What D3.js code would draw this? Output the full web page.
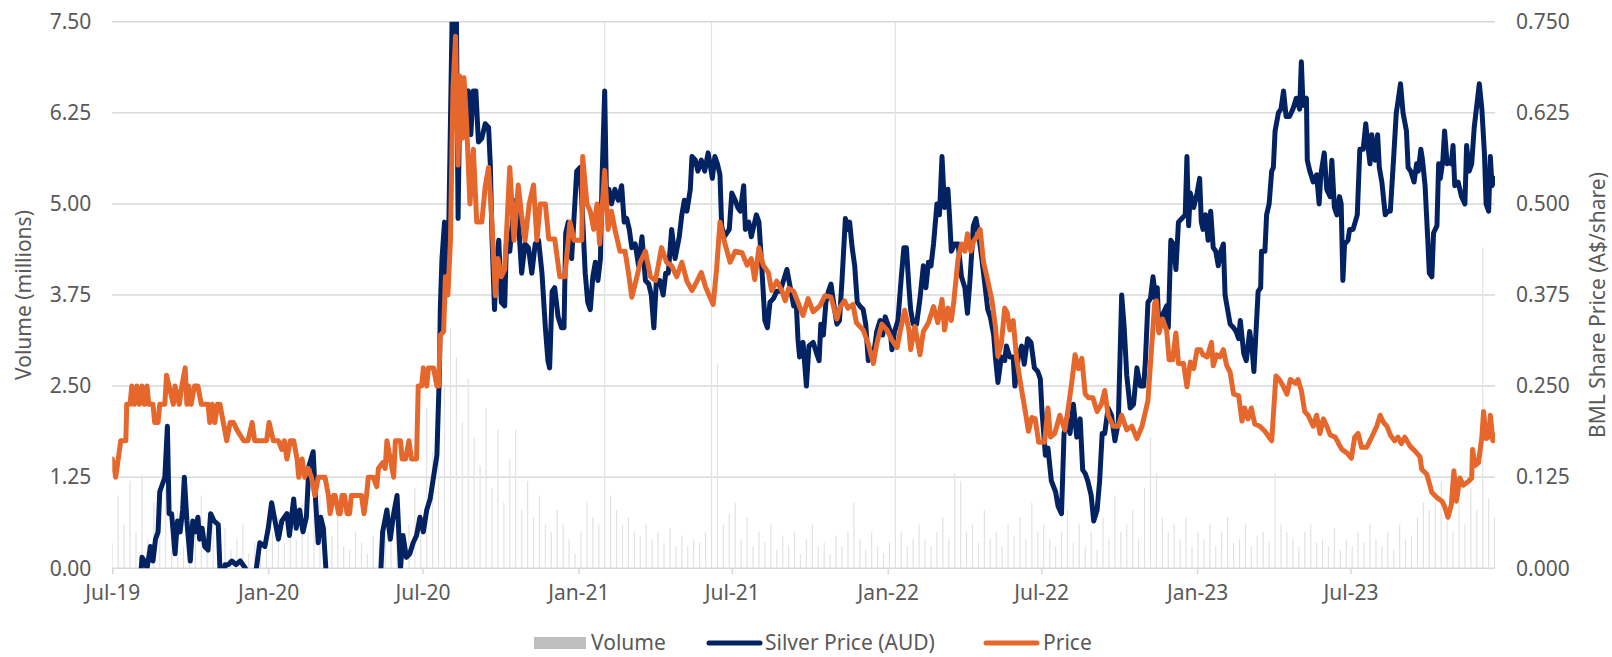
<!DOCTYPE html>
<html><head><meta charset="utf-8">
<script src="https://cdn.jsdelivr.net/npm/d3@7"></script>
<style>
html,body{margin:0;padding:0;background:#fff;}
svg{display:block;font-family:"Noto Sans","Open Sans",sans-serif;}
</style></head>
<body><svg id="chart" width="1612" height="657"></svg>
<script>
// ---------- DATA ----------
const leftTicks = [0, 1.25, 2.5, 3.75, 5, 6.25, 7.5];
const rightTicks = [0, 0.125, 0.25, 0.375, 0.5, 0.625, 0.75];
const xTickLabels = ["Jul-19","Jan-20","Jul-20","Jan-21","Jul-21","Jan-22","Jul-22","Jan-23","Jul-23"];
const seriesNames = ["Volume", "Silver Price (AUD)", "Price"];

// weekly traded volume (millions), weeks starting 2019-07-01
const volumeStart = "2019-07-01";
const volumeWeekly = [
0.35,1.0,0.6,1.2,0.5, 1.28,0.4,0.9,0.6, 1.1,0.5,0.8,0.3, 0.7,0.45,1.0,0.35,0.6, 0.3,0.55,0.25,0.4, 0.6,0.2,0.35,0.15,0.3,
0.5,0.7,0.35,0.6, 0.4,0.9,0.5,0.75, 1.0,0.6,0.45,0.8,0.3, 0.25,0.5,0.35,0.2, 0.45,0.3,0.7,0.55, 0.9,0.4,0.6,1.1,0.8,
2.2,1.6,3.7,2.5, 3.3,2.9,2.0,2.6,1.8, 1.4,2.2,1.1,1.9, 0.9,1.5,1.9,0.8, 1.2,0.7,1.0,0.6,0.5, 0.8,0.6,0.4,0.2,
0.5,0.9,0.7,0.6,8.5, 1.0,0.8,0.6, 0.7,0.5,0.45,0.6,0.4, 0.5,0.35,0.55,0.3, 0.45,0.3,0.4,0.35, 0.5,8.0,2.8,0.6,0.75,
0.9,0.4,0.7,0.3,0.5,0.35,0.6,0.25,0.45, 0.3,0.5,0.2,0.4,0.6,0.3,0.35,0.2,0.45, 0.3,0.5,0.9,0.4,0.25,0.5,0.3,0.2,0.35,
8.0,0.5,0.3,0.4, 0.6,0.4,0.3,0.5,0.7,0.4,1.3,1.2, 0.5,0.6,0.35,0.8,0.4,0.5,0.3,0.6,0.45,0.7,0.4,0.9,0.5,
0.6,0.4,0.3,0.5,0.8,0.35,0.6,0.3,0.5,0.25,0.7,0.4,1.0, 0.5,0.6,0.8,0.4,1.1,1.8,1.3,0.7,0.5,0.6,0.4,0.7,0.3,
0.5,0.4,0.6,0.3,0.5,0.7,0.35,0.4,0.6,0.3,0.45,0.5,0.35, 1.3,0.6,0.5,0.4,0.3,0.5,0.6,0.35,0.4,0.3,0.55,0.25,0.4,
0.3,0.5,0.35,0.6,0.4,0.3,0.5,0.25,0.6,0.4,0.45,0.7,0.9, 0.8,1.0,1.2,0.7,0.5,0.9,0.6,1.1,0.8,4.4,0.96,0.7
];

// BML share price (A$/share)
const priceData = [
["2019-07-01",0.150],["2019-07-05",0.125],["2019-07-08",0.150],["2019-07-11",0.175],["2019-07-17",0.175],["2019-07-18",0.225],
["2019-07-22",0.225],["2019-07-24",0.250],["2019-07-27",0.225],["2019-07-30",0.250],["2019-08-02",0.225],["2019-08-05",0.250],
["2019-08-08",0.225],["2019-08-11",0.250],["2019-08-13",0.225],["2019-08-18",0.225],["2019-08-20",0.200],["2019-08-24",0.200],
["2019-08-26",0.225],["2019-09-01",0.225],["2019-09-03",0.265],["2019-09-06",0.250],["2019-09-11",0.225],["2019-09-13",0.250],
["2019-09-18",0.225],["2019-09-21",0.250],["2019-09-25",0.275],["2019-09-27",0.225],["2019-09-29",0.250],["2019-10-02",0.225],
["2019-10-06",0.250],["2019-10-10",0.250],["2019-10-14",0.225],["2019-10-22",0.225],["2019-10-24",0.200],["2019-10-27",0.225],
["2019-10-30",0.200],["2019-11-02",0.225],["2019-11-05",0.225],["2019-11-09",0.200],["2019-11-13",0.175],["2019-11-17",0.200],
["2019-11-21",0.200],["2019-11-25",0.190],["2019-12-03",0.175],["2019-12-08",0.175],["2019-12-13",0.200],["2019-12-16",0.175],
["2019-12-30",0.175],["2020-01-02",0.200],["2020-01-07",0.175],["2020-01-13",0.175],["2020-01-17",0.163],["2020-01-20",0.175],
["2020-01-23",0.150],["2020-01-27",0.175],["2020-01-31",0.175],["2020-02-04",0.150],["2020-02-06",0.125],["2020-02-10",0.150],
["2020-02-13",0.125],["2020-02-17",0.137],["2020-02-21",0.125],["2020-02-25",0.100],["2020-02-29",0.125],["2020-03-08",0.125],
["2020-03-12",0.100],["2020-03-14",0.075],["2020-03-18",0.100],["2020-03-20",0.100],["2020-03-24",0.075],["2020-03-26",0.075],
["2020-03-28",0.100],["2020-03-31",0.100],["2020-04-03",0.075],["2020-04-06",0.075],["2020-04-08",0.100],["2020-04-20",0.100],
["2020-04-23",0.075],["2020-04-26",0.100],["2020-04-28",0.125],["2020-05-04",0.125],["2020-05-08",0.112],["2020-05-10",0.137],
["2020-05-15",0.145],["2020-05-18",0.137],["2020-05-20",0.175],["2020-05-24",0.150],["2020-05-28",0.125],["2020-05-30",0.175],
["2020-06-05",0.175],["2020-06-07",0.150],["2020-06-11",0.150],["2020-06-15",0.175],["2020-06-18",0.150],["2020-06-24",0.150],
["2020-06-26",0.250],["2020-06-30",0.250],["2020-07-02",0.275],["2020-07-06",0.250],["2020-07-08",0.275],["2020-07-14",0.275],
["2020-07-18",0.250],["2020-07-20",0.250],["2020-07-22",0.320],["2020-07-26",0.325],["2020-07-28",0.400],["2020-07-31",0.375],
["2020-08-03",0.450],["2020-08-06",0.660],["2020-08-09",0.730],["2020-08-12",0.553],["2020-08-14",0.675],["2020-08-17",0.590],
["2020-08-19",0.673],["2020-08-22",0.612],["2020-08-26",0.500],["2020-08-30",0.575],["2020-09-03",0.475],["2020-09-09",0.475],
["2020-09-13",0.524],["2020-09-17",0.550],["2020-09-21",0.475],["2020-09-25",0.374],["2020-09-28",0.425],["2020-10-02",0.400],
["2020-10-06",0.410],["2020-10-12",0.550],["2020-10-17",0.450],["2020-10-22",0.526],["2020-10-26",0.484],["2020-10-30",0.450],
["2020-11-04",0.500],["2020-11-09",0.526],["2020-11-13",0.450],["2020-11-17",0.500],["2020-11-23",0.500],["2020-11-27",0.452],
["2020-12-04",0.452],["2020-12-10",0.400],["2020-12-16",0.400],["2020-12-22",0.475],["2020-12-27",0.450],["2021-01-05",0.450],
["2021-01-06",0.565],["2021-01-11",0.500],["2021-01-15",0.490],["2021-01-19",0.465],["2021-01-23",0.500],["2021-01-26",0.445],
["2021-02-01",0.546],["2021-02-05",0.465],["2021-02-09",0.490],["2021-02-13",0.465],["2021-02-19",0.435],["2021-02-25",0.435],
["2021-03-01",0.406],["2021-03-05",0.372],["2021-03-11",0.400],["2021-03-15",0.420],["2021-03-21",0.435],["2021-03-27",0.400],
["2021-04-02",0.395],["2021-04-09",0.440],["2021-04-15",0.420],["2021-04-21",0.415],["2021-04-27",0.400],["2021-05-03",0.420],
["2021-05-09",0.394],["2021-05-15",0.381],["2021-05-21",0.394],["2021-05-26",0.406],["2021-05-31",0.386],["2021-06-09",0.362],
["2021-06-13",0.410],["2021-06-17",0.475],["2021-06-23",0.445],["2021-06-29",0.420],["2021-07-05",0.435],["2021-07-13",0.433],
["2021-07-19",0.416],["2021-07-24",0.425],["2021-07-28",0.396],["2021-08-02",0.440],["2021-08-07",0.416],["2021-08-13",0.406],
["2021-08-17",0.381],["2021-08-23",0.394],["2021-08-29",0.381],["2021-09-02",0.367],["2021-09-06",0.384],["2021-09-12",0.380],
["2021-09-18",0.362],["2021-09-23",0.347],["2021-09-29",0.370],["2021-10-05",0.352],["2021-10-13",0.360],["2021-10-19",0.374],
["2021-10-26",0.372],["2021-11-02",0.342],["2021-11-06",0.359],["2021-11-11",0.367],["2021-11-15",0.357],["2021-11-21",0.362],
["2021-11-25",0.337],["2021-12-03",0.327],["2021-12-09",0.308],["2021-12-15",0.281],["2021-12-19",0.308],["2021-12-25",0.335],
["2021-12-31",0.327],["2022-01-06",0.313],["2022-01-12",0.303],["2022-01-16",0.327],["2022-01-21",0.354],["2022-01-26",0.327],
["2022-01-28",0.300],["2022-02-02",0.332],["2022-02-08",0.293],["2022-02-12",0.325],["2022-02-18",0.337],["2022-02-24",0.359],
["2022-03-01",0.337],["2022-03-06",0.369],["2022-03-09",0.327],["2022-03-13",0.357],["2022-03-17",0.340],["2022-03-20",0.367],
["2022-03-25",0.425],["2022-03-29",0.445],["2022-04-02",0.435],["2022-04-05",0.459],["2022-04-09",0.435],["2022-04-12",0.448],
["2022-04-16",0.455],["2022-04-20",0.465],["2022-04-24",0.420],["2022-04-28",0.400],["2022-05-04",0.367],["2022-05-08",0.332],
["2022-05-11",0.291],["2022-05-15",0.308],["2022-05-19",0.357],["2022-05-22",0.350],["2022-05-25",0.327],["2022-05-29",0.340],
["2022-06-02",0.288],["2022-06-08",0.244],["2022-06-12",0.217],["2022-06-16",0.188],["2022-06-20",0.207],["2022-06-24",0.205],
["2022-06-28",0.173],["2022-07-05",0.173],["2022-07-09",0.220],["2022-07-12",0.180],["2022-07-17",0.185],["2022-07-23",0.210],
["2022-07-29",0.190],["2022-08-02",0.220],["2022-08-06",0.254],["2022-08-10",0.293],["2022-08-14",0.274],["2022-08-18",0.288],
["2022-08-22",0.239],["2022-08-26",0.234],["2022-08-31",0.234],["2022-09-05",0.215],["2022-09-10",0.225],["2022-09-14",0.244],
["2022-09-18",0.210],["2022-09-24",0.195],["2022-09-30",0.195],["2022-10-04",0.210],["2022-10-10",0.190],["2022-10-16",0.195],
["2022-10-22",0.178],["2022-10-28",0.195],["2022-11-01",0.215],["2022-11-04",0.230],["2022-11-08",0.298],["2022-11-12",0.364],
["2022-11-14",0.367],["2022-11-17",0.323],["2022-11-21",0.342],["2022-11-26",0.327],["2022-11-29",0.286],["2022-12-03",0.286],
["2022-12-07",0.323],["2022-12-10",0.281],["2022-12-16",0.281],["2022-12-20",0.249],["2022-12-24",0.283],["2022-12-28",0.274],
["2023-01-01",0.300],["2023-01-05",0.300],["2023-01-08",0.293],["2023-01-13",0.290],["2023-01-18",0.310],["2023-01-20",0.278],
["2023-01-24",0.293],["2023-01-28",0.290],["2023-02-01",0.300],["2023-02-05",0.278],["2023-02-09",0.269],["2023-02-13",0.239],
["2023-02-19",0.237],["2023-02-23",0.202],["2023-02-26",0.220],["2023-03-02",0.205],["2023-03-06",0.220],["2023-03-10",0.198],
["2023-03-16",0.195],["2023-03-22",0.188],["2023-03-30",0.175],["2023-04-04",0.264],["2023-04-08",0.259],["2023-04-13",0.249],
["2023-04-17",0.239],["2023-04-21",0.259],["2023-04-27",0.254],["2023-04-30",0.259],["2023-05-04",0.244],["2023-05-08",0.215],
["2023-05-12",0.210],["2023-05-18",0.195],["2023-05-22",0.210],["2023-05-26",0.185],["2023-05-30",0.205],["2023-06-03",0.195],
["2023-06-07",0.183],["2023-06-13",0.180],["2023-06-17",0.171],["2023-06-21",0.163],["2023-06-27",0.158],["2023-07-02",0.151],
["2023-07-06",0.180],["2023-07-10",0.185],["2023-07-14",0.166],["2023-07-20",0.166],["2023-07-24",0.175],["2023-07-28",0.185],
["2023-08-01",0.195],["2023-08-05",0.210],["2023-08-09",0.200],["2023-08-13",0.195],["2023-08-17",0.183],["2023-08-22",0.175],
["2023-08-26",0.180],["2023-08-30",0.171],["2023-09-03",0.180],["2023-09-09",0.168],["2023-09-15",0.161],["2023-09-21",0.153],
["2023-09-23",0.136],["2023-09-29",0.129],["2023-10-05",0.104],["2023-10-11",0.097],["2023-10-17",0.092],["2023-10-20",0.085],
["2023-10-24",0.070],["2023-10-28",0.087],["2023-10-31",0.134],["2023-11-03",0.092],["2023-11-07",0.124],["2023-11-11",0.114],
["2023-11-17",0.119],["2023-11-21",0.124],["2023-11-22",0.163],["2023-11-25",0.141],["2023-11-29",0.145],["2023-12-03",0.180],
["2023-12-05",0.215],["2023-12-08",0.178],["2023-12-11",0.180],["2023-12-13",0.210],["2023-12-16",0.175],["2023-12-18",0.183]
];

// Silver price (A$/oz), plotted on a hidden axis
const silverData = [
["2019-07-01",22.0],["2019-07-21",23.4],["2019-08-03",24.6],["2019-08-05",25.3],["2019-08-08",25.2],["2019-08-11",25.0],
["2019-08-15",25.6],["2019-08-18",25.2],["2019-08-21",25.8],["2019-08-24",26.0],["2019-08-26",27.1],["2019-08-29",27.3],
["2019-09-01",27.5],["2019-09-04",28.9],["2019-09-06",26.5],["2019-09-09",26.5],["2019-09-13",25.4],["2019-09-16",26.3],
["2019-09-19",26.0],["2019-09-22",26.6],["2019-09-24",27.5],["2019-09-27",26.3],["2019-10-01",25.2],["2019-10-04",26.3],
["2019-10-07",26.0],["2019-10-10",26.4],["2019-10-12",25.8],["2019-10-15",26.1],["2019-10-18",25.6],["2019-10-22",25.5],
["2019-10-25",26.5],["2019-10-29",26.3],["2019-11-03",26.2],["2019-11-05",25.0],["2019-11-08",24.4],["2019-11-11",25.1],
["2019-11-15",25.1],["2019-11-19",25.2],["2019-11-24",25.1],["2019-11-29",25.2],["2019-12-05",25.0],["2019-12-11",24.4],
["2019-12-18",25.0],["2019-12-22",25.7],["2019-12-28",25.6],["2020-01-01",26.1],["2020-01-05",26.8],["2020-01-09",26.3],
["2020-01-13",25.8],["2020-01-17",26.3],["2020-01-23",26.5],["2020-01-26",25.9],["2020-01-31",26.9],["2020-02-03",26.1],
["2020-02-07",26.6],["2020-02-11",26.0],["2020-02-15",26.4],["2020-02-18",27.8],["2020-02-23",28.2],["2020-02-26",26.8],
["2020-02-29",25.7],["2020-03-03",26.4],["2020-03-06",26.1],["2020-03-09",25.0],["2020-03-15",22.0],["2020-03-22",20.0],
["2020-04-06",21.4],["2020-04-21",22.2],["2020-05-06",23.4],["2020-05-13",25.0],["2020-05-15",26.0],["2020-05-20",26.6],
["2020-05-24",25.8],["2020-05-28",26.5],["2020-06-01",27.0],["2020-06-03",26.0],["2020-06-05",25.0],["2020-06-08",25.9],
["2020-06-12",25.3],["2020-06-16",25.4],["2020-06-20",25.7],["2020-06-24",25.9],["2020-06-28",26.4],["2020-07-02",26.0],
["2020-07-06",26.6],["2020-07-10",26.9],["2020-07-14",27.5],["2020-07-18",28.1],["2020-07-21",30.4],["2020-07-22",32.1],
["2020-07-24",33.5],["2020-07-27",34.5],["2020-07-29",32.5],["2020-08-01",34.3],["2020-08-05",40.2],["2020-08-10",40.2],
["2020-08-12",34.6],["2020-08-14",37.9],["2020-08-17",36.9],["2020-08-20",37.9],["2020-08-24",38.1],["2020-08-27",36.9],
["2020-08-30",38.1],["2020-09-02",38.1],["2020-09-05",36.7],["2020-09-09",36.8],["2020-09-13",37.2],["2020-09-17",37.1],
["2020-09-19",36.1],["2020-09-21",34.1],["2020-09-24",32.1],["2020-09-26",33.3],["2020-09-29",34.0],["2020-10-02",32.3],
["2020-10-06",32.2],["2020-10-08",33.9],["2020-10-12",33.7],["2020-10-16",34.7],["2020-10-19",35.1],["2020-10-22",34.6],
["2020-10-26",33.1],["2020-10-30",33.9],["2020-11-03",33.8],["2020-11-07",33.1],["2020-11-11",33.9],["2020-11-15",34.0],
["2020-11-19",33.1],["2020-11-23",31.6],["2020-11-26",30.7],["2020-11-28",30.5],["2020-12-01",32.6],["2020-12-04",32.7],
["2020-12-08",31.9],["2020-12-12",31.6],["2020-12-15",31.6],["2020-12-17",34.2],["2020-12-20",34.5],["2020-12-24",33.5],
["2020-12-27",34.7],["2020-12-30",35.9],["2021-01-03",36.0],["2021-01-06",34.6],["2021-01-09",33.1],["2021-01-12",32.3],
["2021-01-15",32.1],["2021-01-18",33.0],["2021-01-21",33.4],["2021-01-24",32.9],["2021-01-27",33.5],["2021-01-29",35.8],
["2021-02-01",38.1],["2021-02-03",35.3],["2021-02-06",35.4],["2021-02-09",35.0],["2021-02-13",35.4],["2021-02-17",35.1],
["2021-02-21",35.5],["2021-02-24",34.5],["2021-02-27",34.6],["2021-03-02",34.3],["2021-03-05",33.8],["2021-03-09",33.9],
["2021-03-13",33.3],["2021-03-17",34.1],["2021-03-21",32.9],["2021-03-25",32.8],["2021-03-28",32.5],["2021-03-31",31.6],
["2021-04-03",32.9],["2021-04-07",32.9],["2021-04-11",32.5],["2021-04-14",33.1],["2021-04-17",33.1],["2021-04-21",34.3],
["2021-04-25",33.5],["2021-04-30",34.1],["2021-05-03",34.7],["2021-05-06",35.1],["2021-05-09",34.8],["2021-05-13",35.4],
["2021-05-15",36.3],["2021-05-19",36.2],["2021-05-22",35.9],["2021-05-26",36.2],["2021-05-30",35.9],["2021-06-03",36.4],
["2021-06-06",36.0],["2021-06-08",35.7],["2021-06-11",36.3],["2021-06-14",36.1],["2021-06-17",35.8],["2021-06-19",34.4],
["2021-06-22",34.1],["2021-06-25",34.2],["2021-06-28",34.3],["2021-07-01",35.3],["2021-07-05",35.1],["2021-07-08",34.9],
["2021-07-11",34.8],["2021-07-15",35.5],["2021-07-17",34.3],["2021-07-21",34.5],["2021-07-24",34.1],["2021-07-27",34.4],
["2021-07-30",34.7],["2021-08-02",34.5],["2021-08-05",33.4],["2021-08-09",31.8],["2021-08-12",31.6],["2021-08-15",32.3],
["2021-08-19",32.4],["2021-08-23",32.6],["2021-08-27",32.6],["2021-08-31",32.9],["2021-09-04",33.2],["2021-09-08",32.7],
["2021-09-12",32.2],["2021-09-15",32.3],["2021-09-17",31.3],["2021-09-19",30.8],["2021-09-23",31.2],["2021-09-27",30.0],
["2021-09-30",31.1],["2021-10-05",31.2],["2021-10-09",30.9],["2021-10-12",30.7],["2021-10-14",31.7],["2021-10-17",31.4],
["2021-10-20",32.3],["2021-10-23",32.6],["2021-10-26",32.8],["2021-10-29",32.3],["2021-11-02",31.7],["2021-11-05",31.8],
["2021-11-08",32.9],["2021-11-12",34.6],["2021-11-15",34.3],["2021-11-17",34.5],["2021-11-20",33.8],["2021-11-23",33.3],
["2021-11-26",32.3],["2021-11-29",32.2],["2021-12-03",32.1],["2021-12-06",31.7],["2021-12-09",30.7],["2021-12-12",31.0],
["2021-12-15",30.8],["2021-12-19",31.5],["2021-12-23",31.8],["2021-12-26",31.4],["2021-12-29",31.9],["2022-01-01",31.7],
["2022-01-04",31.5],["2022-01-06",31.0],["2022-01-09",31.5],["2022-01-13",31.8],["2022-01-17",33.0],["2022-01-20",33.8],
["2022-01-23",33.8],["2022-01-26",32.7],["2022-01-28",32.1],["2022-01-31",31.7],["2022-02-04",31.7],["2022-02-08",32.4],
["2022-02-12",33.3],["2022-02-15",32.7],["2022-02-18",33.4],["2022-02-21",33.3],["2022-02-24",33.9],["2022-02-28",35.0],
["2022-03-03",34.7],["2022-03-06",36.3],["2022-03-09",34.9],["2022-03-13",35.4],["2022-03-15",34.6],["2022-03-17",33.7],
["2022-03-21",33.9],["2022-03-25",33.9],["2022-03-29",33.0],["2022-04-02",32.7],["2022-04-05",32.0],["2022-04-08",32.9],
["2022-04-12",34.4],["2022-04-15",34.6],["2022-04-18",34.2],["2022-04-22",33.5],["2022-04-26",32.7],["2022-04-29",32.1],
["2022-05-02",31.9],["2022-05-06",31.4],["2022-05-08",30.8],["2022-05-11",30.1],["2022-05-15",30.8],["2022-05-19",30.7],
["2022-05-21",31.1],["2022-05-25",30.8],["2022-05-29",30.8],["2022-05-31",30.0],["2022-06-04",30.8],["2022-06-08",31.1],
["2022-06-11",30.6],["2022-06-15",31.3],["2022-06-19",31.2],["2022-06-23",30.5],["2022-06-27",30.4],["2022-06-30",30.2],
["2022-07-02",29.3],["2022-07-06",28.1],["2022-07-09",28.3],["2022-07-13",27.4],["2022-07-18",27.1],["2022-07-21",26.7],
["2022-07-25",26.5],["2022-07-28",28.7],["2022-07-31",29.1],["2022-08-04",28.7],["2022-08-08",29.5],["2022-08-12",28.6],
["2022-08-16",29.1],["2022-08-19",27.7],["2022-08-22",27.6],["2022-08-25",27.4],["2022-08-29",27.0],["2022-09-01",26.3],
["2022-09-05",26.6],["2022-09-08",27.4],["2022-09-11",28.7],["2022-09-14",28.7],["2022-09-18",29.4],["2022-09-22",29.2],
["2022-09-26",28.5],["2022-09-30",29.0],["2022-10-04",32.5],["2022-10-07",31.6],["2022-10-10",30.3],["2022-10-14",29.4],
["2022-10-18",29.5],["2022-10-22",30.5],["2022-10-26",30.0],["2022-10-30",30.0],["2022-11-01",30.7],["2022-11-04",32.3],
["2022-11-07",32.4],["2022-11-10",33.0],["2022-11-13",32.4],["2022-11-15",32.7],["2022-11-17",31.5],["2022-11-22",32.0],
["2022-11-26",32.2],["2022-11-28",31.6],["2022-12-01",34.0],["2022-12-04",33.9],["2022-12-07",33.2],["2022-12-10",34.5],
["2022-12-14",34.6],["2022-12-18",34.7],["2022-12-20",36.3],["2022-12-22",34.4],["2022-12-24",35.3],["2022-12-28",34.9],
["2023-01-01",35.3],["2023-01-04",35.7],["2023-01-06",34.5],["2023-01-08",34.3],["2023-01-11",34.7],["2023-01-14",34.0],
["2023-01-17",34.8],["2023-01-20",33.8],["2023-01-23",33.7],["2023-01-26",33.3],["2023-01-29",33.7],["2023-02-01",33.9],
["2023-02-03",32.5],["2023-02-06",32.1],["2023-02-09",31.7],["2023-02-13",31.6],["2023-02-16",31.5],["2023-02-19",31.3],
["2023-02-21",31.8],["2023-02-25",30.9],["2023-02-28",30.7],["2023-03-04",31.5],["2023-03-07",31.0],["2023-03-09",30.4],
["2023-03-12",31.7],["2023-03-14",32.6],["2023-03-17",32.7],["2023-03-18",33.7],["2023-03-22",33.7],["2023-03-24",34.7],
["2023-03-27",35.0],["2023-03-30",35.9],["2023-04-01",36.0],["2023-04-03",37.0],["2023-04-07",37.5],["2023-04-10",37.6],
["2023-04-13",38.1],["2023-04-16",37.4],["2023-04-20",37.4],["2023-04-24",37.6],["2023-04-28",37.9],["2023-05-02",37.6],
["2023-05-04",38.9],["2023-05-06",37.7],["2023-05-10",37.9],["2023-05-11",36.2],["2023-05-14",35.9],["2023-05-18",35.6],
["2023-05-22",35.8],["2023-05-25",35.0],["2023-05-27",35.8],["2023-05-31",36.4],["2023-06-03",35.4],["2023-06-07",35.2],
["2023-06-09",36.2],["2023-06-12",34.9],["2023-06-15",34.7],["2023-06-18",35.2],["2023-06-20",35.0],["2023-06-22",32.9],
["2023-06-24",33.9],["2023-06-28",34.0],["2023-06-30",34.3],["2023-07-04",34.3],["2023-07-09",34.7],["2023-07-12",36.5],
["2023-07-16",36.5],["2023-07-19",37.2],["2023-07-22",36.5],["2023-07-24",36.1],["2023-07-26",36.9],["2023-07-30",36.2],
["2023-08-02",36.9],["2023-08-04",36.0],["2023-08-07",35.6],["2023-08-11",34.7],["2023-08-14",34.8],["2023-08-17",34.8],
["2023-08-21",36.3],["2023-08-24",37.5],["2023-08-26",37.8],["2023-08-29",38.3],["2023-09-01",37.5],["2023-09-05",37.0],
["2023-09-07",36.0],["2023-09-10",35.9],["2023-09-14",35.6],["2023-09-17",36.1],["2023-09-19",35.9],["2023-09-22",36.5],
["2023-09-24",36.2],["2023-09-27",35.5],["2023-09-30",34.1],["2023-10-02",33.1],["2023-10-05",33.0],["2023-10-07",34.2],
["2023-10-11",34.4],["2023-10-13",36.1],["2023-10-15",35.7],["2023-10-18",36.2],["2023-10-20",37.0],["2023-10-23",36.1],
["2023-10-26",36.2],["2023-10-28",36.1],["2023-10-30",36.6],["2023-11-01",35.5],["2023-11-05",35.6],["2023-11-09",35.2],
["2023-11-13",35.0],["2023-11-15",36.6],["2023-11-18",35.9],["2023-11-21",36.1],["2023-11-24",37.1],["2023-11-27",37.7],
["2023-11-30",38.3],["2023-12-03",37.6],["2023-12-06",36.4],["2023-12-08",35.0],["2023-12-11",34.8],["2023-12-13",36.3],
["2023-12-15",35.5],["2023-12-18",35.7]
];

// ---------- CHART ----------
const parse = d3.timeParse("%Y-%m-%d");
const price = priceData.map(d => ({date: parse(d[0]), value: d[1]}));
const silver = silverData.map(d => ({date: parse(d[0]), value: d[1]}));
const v0 = parse(volumeStart);
const volume = volumeWeekly.map((v, i) => ({date: d3.timeWeek.offset(v0, i), value: v}));

const svg = d3.select("#chart");
const m = {left: 112.3, right: 1495, top: 21.7, bottom: 568.3};
const FS = 21;

const x = d3.scaleTime()
  .domain([parse("2019-07-01"), new Date(2023, 11, 18, 12)])
  .range([m.left, m.right]);
const yL = d3.scaleLinear().domain([0, 7.5]).range([m.bottom, m.top]);
const yR = d3.scaleLinear().domain([0, 0.75]).range([m.bottom, m.top]);
const yS = d3.scaleLinear().domain([25, 40]).range([m.bottom, m.top]); // hidden silver axis

const textColor = "#595959";
const gridColor = "#d9d9d9";
const navy = "#022262";
const orange = "#E5672C";

svg.append("defs").append("clipPath").attr("id", "plotclip")
  .append("rect").attr("x", m.left).attr("y", m.top)
  .attr("width", m.right - m.left).attr("height", m.bottom - m.top);

// gridlines
svg.append("g").selectAll("line").data(leftTicks.slice(1)).join("line")
  .attr("x1", m.left).attr("x2", m.right)
  .attr("y1", d => yL(d)).attr("y2", d => yL(d))
  .attr("stroke", gridColor).attr("stroke-width", 1.5);

// volume bars
svg.append("g").attr("clip-path", "url(#plotclip)")
  .selectAll("rect").data(volume).join("rect")
  .attr("x", d => x(d.date) - 0.6)
  .attr("width", 1.2)
  .attr("y", d => yL(d.value))
  .attr("height", d => yL(0) - yL(d.value))
  .attr("fill", "#e2e2e2");

// baseline
svg.append("line").attr("x1", m.left).attr("x2", m.right)
  .attr("y1", yL(0)).attr("y2", yL(0))
  .attr("stroke", gridColor).attr("stroke-width", 1.5);

// x axis ticks
const xTickDates = xTickLabels.map(s => d3.timeParse("%b-%y")(s));
const xAxis = d3.axisBottom(x).tickValues(xTickDates)
  .tickFormat(d3.timeFormat("%b-%y")).tickSize(6).tickPadding(11);
const gx = svg.append("g").attr("transform", `translate(0,${m.bottom})`).call(xAxis);
gx.select(".domain").remove();
gx.selectAll(".tick line").attr("stroke", gridColor).attr("stroke-width", 1.5);
gx.selectAll(".tick text").attr("fill", textColor).attr("font-size", FS)
  .attr("font-family", '"Noto Sans",sans-serif');

// left axis
const gl = svg.append("g").attr("transform", `translate(${m.left},0)`)
  .call(d3.axisLeft(yL).tickValues(leftTicks).tickFormat(d3.format(".2f")).tickSize(0).tickPadding(21));
gl.select(".domain").remove();
gl.selectAll(".tick text").attr("fill", textColor).attr("font-size", FS)
  .attr("font-family", '"Noto Sans",sans-serif');

// right axis
const gr = svg.append("g").attr("transform", `translate(${m.right},0)`)
  .call(d3.axisRight(yR).tickValues(rightTicks).tickFormat(d3.format(".3f")).tickSize(0).tickPadding(21));
gr.select(".domain").remove();
gr.selectAll(".tick text").attr("fill", textColor).attr("font-size", FS)
  .attr("font-family", '"Noto Sans",sans-serif');

// lines
const lineSilver = d3.line().x(d => x(d.date)).y(d => yS(d.value));
const linePrice = d3.line().x(d => x(d.date)).y(d => yR(d.value));
const gLines = svg.append("g").attr("clip-path", "url(#plotclip)");
gLines.append("path").datum(silver).attr("d", lineSilver)
  .attr("fill", "none").attr("stroke", navy).attr("stroke-width", 5)
  .attr("stroke-linejoin", "round").attr("stroke-linecap", "round");
gLines.append("path").datum(price).attr("d", linePrice)
  .attr("fill", "none").attr("stroke", orange).attr("stroke-width", 5)
  .attr("stroke-linejoin", "round").attr("stroke-linecap", "round");

// axis titles
svg.append("text").attr("transform", `translate(31,${(m.top + m.bottom) / 2}) rotate(-90)`)
  .attr("text-anchor", "middle").attr("fill", textColor).attr("font-size", FS)
  .text("Volume (millions)");
svg.append("text").attr("transform", `translate(1605,${(m.top + m.bottom) / 2 + 10}) rotate(-90)`)
  .attr("text-anchor", "middle").attr("fill", textColor).attr("font-size", FS)
  .text("BML Share Price (A$/share)");

// legend
const lg = svg.append("g").attr("font-size", FS).attr("fill", textColor);
lg.append("rect").attr("x", 534).attr("y", 637).attr("width", 52).attr("height", 12).attr("fill", "#bfbfbf");
lg.append("text").attr("x", 591).attr("y", 650).text(seriesNames[0]);
lg.append("line").attr("x1", 709).attr("x2", 760).attr("y1", 643).attr("y2", 643)
  .attr("stroke", navy).attr("stroke-width", 5).attr("stroke-linecap", "round");
lg.append("text").attr("x", 765).attr("y", 650).text(seriesNames[1]);
lg.append("line").attr("x1", 986).attr("x2", 1037).attr("y1", 643).attr("y2", 643)
  .attr("stroke", orange).attr("stroke-width", 5).attr("stroke-linecap", "round");
lg.append("text").attr("x", 1043).attr("y", 650).text(seriesNames[2]);
</script>
</body></html>
